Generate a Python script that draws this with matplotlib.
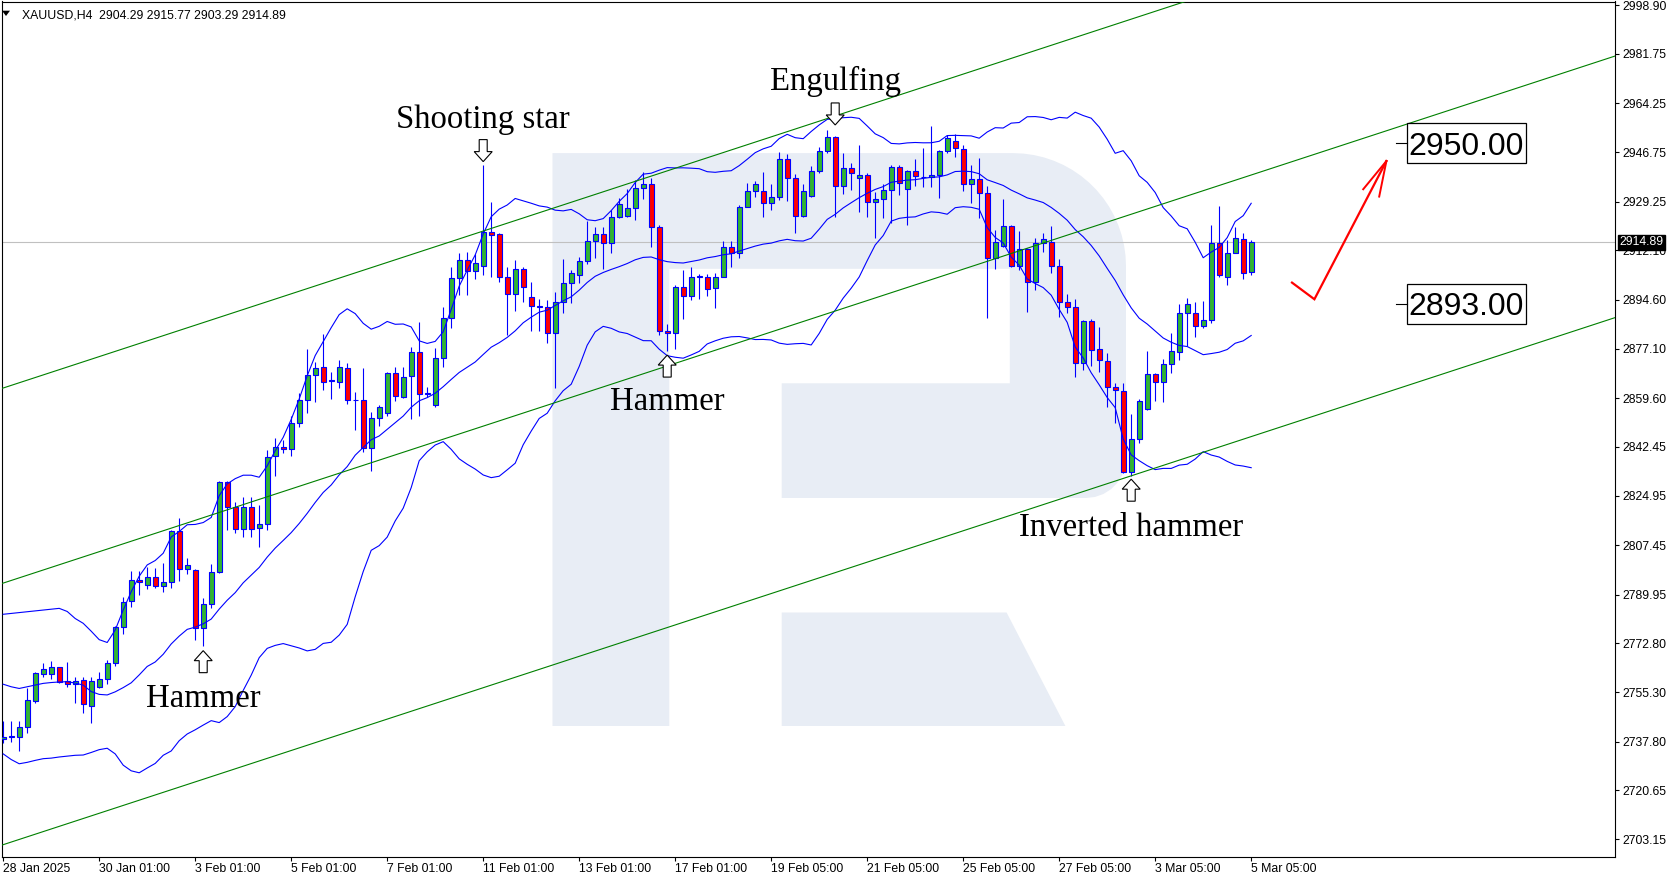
import numpy as np
import pandas as pd
import matplotlib
matplotlib.use('Agg')
import matplotlib.pyplot as plt
import matplotlib.transforms as mtransforms
from matplotlib import font_manager
from matplotlib.patches import Polygon, Rectangle

# ── Data: XAUUSD H4, one entry per bar ────────────────────────────────────────
opens = [
    2738.7, 2739.6, 2739.6, 2743.1, 2752.4, 2762.0, 2761.7, 2764.2, 2759.2, 2758.2,
    2759.6, 2750.6, 2757.1, 2760.2, 2765.6, 2778.5, 2787.7, 2795.0, 2793.3, 2796.1,
    2792.9, 2794.3, 2812.5, 2798.9, 2798.6, 2778.1, 2786.8, 2797.9, 2829.8, 2820.9,
    2813.1, 2820.9, 2813.5, 2814.9, 2839.1, 2842.4, 2841.5, 2850.7, 2859.0, 2867.8,
    2870.6, 2865.9, 2865.2, 2870.2, 2859.1, 2858.9, 2841.8, 2852.5, 2854.2, 2868.4,
    2860.2, 2867.5, 2875.9, 2861.4, 2857.2, 2873.7, 2887.9, 2902.1, 2908.6, 2904.8,
    2906.5, 2918.4, 2917.7, 2902.5, 2896.4, 2905.6, 2895.6, 2892.2, 2892.1, 2882.6,
    2893.8, 2900.6, 2903.3, 2908.4, 2915.5, 2917.7, 2914.8, 2923.7, 2924.3, 2926.9,
    2934.0, 2935.4, 2920.4, 2883.5, 2882.6, 2898.9, 2895.9, 2902.6, 2902.7, 2898.6,
    2902.7, 2913.3, 2911.0, 2927.5, 2933.1, 2933.1, 2928.7, 2931.0, 2944.3, 2937.6,
    2924.3, 2931.3, 2940.3, 2947.4, 2952.1, 2934.8, 2941.4, 2937.6, 2938.8, 2929.3,
    2930.1, 2933.4, 2941.5, 2933.7, 2940.3, 2938.2, 2937.9, 2938.6, 2947.3, 2950.9,
    2947.9, 2935.6, 2937.2, 2932.3, 2909.2, 2913.6, 2920.8, 2906.5, 2912.4, 2900.7,
    2914.5, 2914.9, 2906.5, 2893.8, 2891.8, 2872.0, 2887.1, 2876.9, 2872.9, 2863.5,
    2862.3, 2833.6, 2845.0, 2855.7, 2868.1, 2865.2, 2871.6, 2876.1, 2889.7, 2889.9,
    2885.2, 2887.3, 2914.5, 2902.5, 2911.0, 2916.1, 2904.29,
]
highs = [
    2745.3, 2745.3, 2745.3, 2756.7, 2762.6, 2765.6, 2766.4, 2764.4, 2766.0, 2760.9,
    2760.9, 2760.9, 2762.5, 2766.8, 2779.0, 2789.2, 2798.3, 2798.3, 2799.6, 2799.5,
    2801.1, 2812.8, 2817.3, 2802.8, 2798.9, 2788.6, 2800.8, 2830.3, 2830.3, 2822.9,
    2824.7, 2824.7, 2821.7, 2841.2, 2845.4, 2844.8, 2853.3, 2861.6, 2877.1, 2872.6,
    2882.4, 2869.0, 2873.2, 2872.0, 2861.7, 2870.2, 2854.7, 2857.2, 2869.0, 2870.8,
    2870.8, 2877.9, 2886.7, 2863.5, 2877.3, 2892.0, 2906.2, 2911.0, 2911.6, 2910.7,
    2942.3, 2929.3, 2918.1, 2906.2, 2908.6, 2906.2, 2900.9, 2894.7, 2894.4, 2897.4,
    2908.8, 2905.1, 2909.8, 2922.6, 2920.4, 2920.4, 2926.3, 2930.5, 2933.7, 2937.0,
    2939.7, 2937.6, 2921.0, 2886.1, 2899.8, 2905.1, 2906.0, 2903.5, 2903.6, 2904.1,
    2915.5, 2915.5, 2928.1, 2935.8, 2936.6, 2939.9, 2935.6, 2947.0, 2946.1, 2939.1,
    2935.6, 2942.1, 2948.6, 2954.7, 2952.6, 2946.6, 2943.0, 2949.4, 2939.6, 2932.8,
    2935.4, 2942.3, 2942.3, 2940.5, 2944.3, 2948.2, 2956.1, 2947.6, 2952.9, 2953.3,
    2949.4, 2942.3, 2944.7, 2934.8, 2919.3, 2930.1, 2921.0, 2919.0, 2912.7, 2916.3,
    2918.3, 2920.7, 2908.8, 2896.6, 2894.8, 2887.5, 2887.6, 2884.9, 2875.8, 2864.9,
    2864.9, 2854.0, 2859.2, 2876.4, 2868.7, 2873.4, 2882.8, 2892.9, 2895.0, 2893.8,
    2894.2, 2921.0, 2927.8, 2915.7, 2920.2, 2918.1, 2915.77,
]
lows = [
    2737.2, 2737.8, 2734.6, 2741.0, 2751.6, 2760.9, 2760.0, 2758.7, 2757.1, 2751.6,
    2747.9, 2744.6, 2756.7, 2758.3, 2764.8, 2775.9, 2785.6, 2789.8, 2791.8, 2792.2,
    2790.8, 2792.2, 2794.9, 2797.2, 2773.9, 2771.9, 2785.1, 2797.5, 2812.9, 2811.7,
    2810.3, 2810.5, 2807.0, 2812.9, 2832.0, 2840.3, 2839.1, 2849.5, 2854.5, 2858.4,
    2862.5, 2859.3, 2863.4, 2857.4, 2848.3, 2840.7, 2833.9, 2849.8, 2853.3, 2858.6,
    2859.8, 2852.1, 2853.3, 2860.1, 2856.4, 2870.8, 2884.4, 2896.2, 2896.2, 2901.9,
    2903.3, 2902.7, 2900.9, 2882.0, 2890.6, 2893.8, 2883.6, 2883.6, 2879.1, 2863.4,
    2889.7, 2893.2, 2900.3, 2907.2, 2909.2, 2905.3, 2911.0, 2923.4, 2924.0, 2922.8,
    2930.1, 2913.3, 2882.0, 2876.5, 2876.9, 2887.7, 2894.4, 2894.8, 2895.8, 2891.7,
    2902.5, 2906.2, 2909.2, 2927.3, 2931.1, 2923.8, 2926.3, 2929.9, 2929.5, 2918.1,
    2924.0, 2930.8, 2939.3, 2946.4, 2923.7, 2932.0, 2933.5, 2925.7, 2923.7, 2916.3,
    2923.4, 2921.6, 2931.7, 2921.0, 2934.9, 2934.4, 2934.4, 2930.5, 2946.4, 2945.0,
    2933.2, 2928.9, 2923.4, 2887.9, 2905.3, 2913.3, 2906.3, 2905.1, 2890.3, 2898.0,
    2911.6, 2903.9, 2888.5, 2889.7, 2867.2, 2869.6, 2871.0, 2869.0, 2856.6, 2850.7,
    2833.0, 2832.0, 2843.8, 2855.4, 2858.7, 2858.4, 2868.4, 2873.1, 2878.1, 2881.4,
    2884.6, 2886.4, 2902.7, 2899.7, 2911.0, 2901.8, 2903.29,
]
closes = [
    2739.6, 2739.5, 2743.1, 2752.6, 2762.1, 2763.5, 2764.2, 2759.1, 2758.3, 2759.2,
    2751.2, 2759.2, 2760.2, 2765.6, 2778.5, 2787.5, 2795.0, 2794.3, 2796.1, 2792.9,
    2794.3, 2812.5, 2798.9, 2800.4, 2778.1, 2786.8, 2797.9, 2829.8, 2821.1, 2813.1,
    2820.9, 2813.4, 2815.0, 2838.9, 2842.4, 2841.7, 2850.7, 2859.0, 2867.8, 2870.2,
    2865.2, 2865.7, 2870.6, 2859.0, 2858.9, 2841.8, 2852.5, 2856.6, 2868.4, 2860.5,
    2867.2, 2875.9, 2861.0, 2861.2, 2873.7, 2887.9, 2902.1, 2908.6, 2904.8, 2907.4,
    2918.4, 2917.5, 2902.5, 2896.4, 2905.6, 2898.9, 2892.3, 2892.0, 2882.6, 2893.8,
    2900.6, 2903.9, 2908.4, 2915.5, 2917.7, 2914.8, 2923.7, 2928.3, 2926.9, 2934.0,
    2935.4, 2920.4, 2883.3, 2882.6, 2898.9, 2895.9, 2902.5, 2903.0, 2898.2, 2902.7,
    2913.3, 2911.0, 2927.5, 2933.1, 2935.4, 2928.7, 2931.0, 2944.3, 2937.6, 2924.3,
    2933.1, 2940.3, 2947.4, 2952.1, 2934.8, 2941.4, 2939.3, 2938.8, 2929.3, 2930.1,
    2933.4, 2941.5, 2935.8, 2940.3, 2938.4, 2937.9, 2938.6, 2947.3, 2951.7, 2948.2,
    2935.6, 2937.2, 2932.3, 2909.2, 2915.1, 2920.8, 2906.5, 2912.4, 2900.7, 2914.5,
    2915.9, 2906.5, 2893.8, 2891.8, 2872.0, 2887.1, 2876.7, 2873.1, 2863.5, 2862.5,
    2833.6, 2845.0, 2858.7, 2868.1, 2865.2, 2871.6, 2876.5, 2889.7, 2892.9, 2885.2,
    2887.3, 2914.5, 2903.3, 2911.0, 2916.5, 2903.9, 2914.89,
]

# Bollinger(20, 2) for the first 19 bars needs history off the left edge,
# so those values are read straight off the chart
bb_upper_early = [2783.0, 2783.3, 2783.6, 2783.9, 2784.2, 2784.5, 2784.8, 2785.1, 2784.0, 2781.5,
                  2779.8, 2777.0, 2774.0, 2773.0, 2777.4, 2784.5, 2791.0, 2796.5, 2800.5]
bb_mid_early = [2758.2, 2757.3, 2756.7, 2757.3, 2757.9, 2758.5, 2758.8, 2759.0, 2759.1, 2758.6,
                2757.9, 2755.6, 2754.6, 2754.4, 2755.5, 2757.0, 2758.7, 2761.5, 2764.5]
bb_lower_early = [2733.5, 2731.5, 2730.0, 2730.5, 2731.2, 2731.8, 2732.0, 2732.4, 2732.7, 2733.0,
                  2733.1, 2734.0, 2735.0, 2735.5, 2733.5, 2729.5, 2727.5, 2726.8, 2728.5]

date_ticks = [0, 12, 24, 36, 48, 60, 72, 84, 96, 108, 120, 132, 144, 156]
date_labels = ['28 Jan 2025', '30 Jan 01:00', '3 Feb 01:00', '5 Feb 01:00', '7 Feb 01:00',
               '11 Feb 01:00', '13 Feb 01:00', '17 Feb 01:00', '19 Feb 05:00', '21 Feb 05:00',
               '25 Feb 05:00', '27 Feb 05:00', '3 Mar 05:00', '5 Mar 05:00']
price_ticks = [2998.90, 2981.75, 2964.25, 2946.75, 2929.25, 2912.10, 2894.60, 2877.10, 2859.60,
               2842.45, 2824.95, 2807.45, 2789.95, 2772.80, 2755.30, 2737.80, 2720.65, 2703.15]

# channel trendlines: price at bar 0 and common slope (price per bar)
channel_base = [2863.23, 2794.06, 2701.31]
channel_slope = 0.9275

# candle patterns: label, bar, arrow tip price, arrow direction, text baseline price
patterns = [
    ('Shooting star', 60, 2943.5, 'down', 2955.3),
    ('Engulfing', 104, 2956.5, 'down', 2968.8),
    ('Hammer', 83, 2874.9, 'up', 2855.4),
    ('Hammer', 25, 2770.1, 'up', 2750.2),
    ('Inverted hammer', 141, 2830.9, 'up', 2810.9),
]
target_levels = [2950.00, 2893.00]
# hand-drawn forecast tick: (bar, price) vertices
forecast_x = [161.1, 163.9, 172.9]
forecast_y = [2900.6, 2894.7, 2943.7]
barbs = [(170.0, 2933.7), (172.0, 2931.1)]

# ── Style ─────────────────────────────────────────────────────────────────────
BLUE = '#0000FF'
GREEN_FILL = '#32B432'
RED_FILL = '#FF0000'
LINE_GREEN = '#008000'
WATERMARK = '#E8EDF5'
W, H, DPI = 1679, 882, 100

plt.rcParams['font.family'] = ['Liberation Sans', 'DejaVu Sans']
available = {f.name for f in font_manager.fontManager.ttflist}
if 'Liberation Sans Narrow' in available:
    big_family, big_size = 'Liberation Sans Narrow', 26.5
else:
    big_family, big_size = 'Liberation Sans', 23

fig = plt.figure(figsize=(W / DPI, H / DPI), dpi=DPI)
ax = fig.add_axes([2 / W, (H - 857) / H, 1613 / W, 855.5 / H])
ax.set_xlim(-0.15, 201.475)
ax.set_ylim(2696.94, 3000.27)
for s in ax.spines.values():
    s.set_linewidth(0.8)
    s.set_color('black')


def px_trans(xd, yd):
    # vertices in inches, anchored at a data point
    return fig.dpi_scale_trans + mtransforms.ScaledTranslation(xd, yd, ax.transData)


def px(pts):
    return [(x / DPI, y / DPI) for x, y in pts]


# ── Watermark logo (figure pixels, y down) ────────────────────────────────────
def fig_px(pts):
    return [(x / DPI, (H - y) / DPI) for x, y in pts]


outer = [(552.5, 153.1)]
R = 113
for t in np.linspace(90, 0, 18):
    outer.append((1126 - R + R * np.cos(np.radians(t)), 153.1 + R - R * np.sin(np.radians(t))))
r = 40
for t in np.linspace(0, -90, 8):
    outer.append((1126 - r + r * np.cos(np.radians(t)), 498 - r - r * np.sin(np.radians(t))))
outer += [(781.7, 498), (781.7, 383.3), (1009.8, 383.3), (1009.8, 268.8),
          (669.3, 268.8), (669.3, 726), (552.5, 726)]
leg = [(781.7, 612.5), (1006.6, 612.5), (1065.4, 726), (781.7, 726)]
for shape in (outer, leg):
    ax.add_patch(Polygon(fig_px(shape), closed=True, fc=WATERMARK, ec='none',
                         transform=fig.dpi_scale_trans, zorder=0))

# ── Candles ───────────────────────────────────────────────────────────────────
x = np.arange(len(closes))
o, h, l, c = (np.array(v) for v in (opens, highs, lows, closes))
bull = c > o
ax.vlines(x, l, h, color=BLUE, lw=0.8, zorder=3)
ax.bar(x, np.maximum(np.abs(c - o), 0.2), bottom=np.minimum(o, c), width=0.62,
       color=np.where(bull, GREEN_FILL, RED_FILL), edgecolor=BLUE, linewidth=0.8, zorder=4)

# ── Bollinger bands ───────────────────────────────────────────────────────────
cs = pd.Series(c)
mid = cs.rolling(20).mean()
sd = cs.rolling(20).std(ddof=0)
upper = (mid + 2 * sd).to_numpy()
lower = (mid - 2 * sd).to_numpy()
mid = mid.to_numpy()
n0 = len(bb_mid_early)
upper[:n0], mid[:n0], lower[:n0] = bb_upper_early, bb_mid_early, bb_lower_early
for band in (upper, mid, lower):
    ax.plot(x, band, color=BLUE, lw=0.8, zorder=5)

# ── Channel ───────────────────────────────────────────────────────────────────
for base in channel_base:
    ax.axline((0, base), slope=channel_slope, color=LINE_GREEN, lw=0.8, zorder=5)

# bid line
ax.axhline(c[-1], color='#C0C0C0', lw=0.8, zorder=1)

# ── Pattern labels with hollow arrows ─────────────────────────────────────────
arrow_up = [(0, 0), (-9, -10), (-4, -10), (-4, -22), (4, -22), (4, -10), (9, -10)]
for label, bar, tip, direction, base_y in patterns:
    shape = arrow_up if direction == 'up' else [(dx, -dy) for dx, dy in arrow_up]
    ax.add_patch(Polygon(px(shape), closed=True, fc='white', ec='black', lw=0.8,
                         transform=px_trans(bar, tip), zorder=7))
    ax.text(bar, base_y, label, ha='center', va='baseline', fontsize=23.6,
            family='Liberation Serif', color='black', zorder=7)

# ── Forecast tick (red) ───────────────────────────────────────────────────────
ax.plot(forecast_x, forecast_y, color='red', lw=1.6, solid_joinstyle='miter', zorder=7)
for bx, by in barbs:
    ax.plot([forecast_x[-1], bx], [forecast_y[-1], by], color='red', lw=1.4, zorder=7)

# ── Target price boxes ────────────────────────────────────────────────────────
box_bar = 182.9
digit_h = 0.716 * big_size * DPI / 72          # cap/digit height in pixels
text_shift = mtransforms.offset_copy(ax.transData, fig, x=0, y=-digit_h / 2, units='dots')
for lvl in target_levels:
    tr = px_trans(box_bar, lvl)
    ax.add_patch(Rectangle((-59.5 / DPI, -19.85 / DPI), 119 / DPI, 39.7 / DPI, fc='white',
                           ec='black', lw=0.9, transform=tr, zorder=7))
    ax.plot([-70.2 / DPI, -59.5 / DPI], [0, 0], color='black', lw=0.8, transform=tr, zorder=7)
    ax.text(box_bar, lvl, f'{lvl:.2f}', ha='center', va='baseline', fontsize=big_size,
            family=big_family, color='black', zorder=8, transform=text_shift)

# ── Axes ──────────────────────────────────────────────────────────────────────
ax.yaxis.tick_right()
ax.set_yticks(price_ticks)
ax.set_yticklabels([f'{p:.2f}' for p in price_ticks])
ax.tick_params(axis='y', length=3, width=0.8, pad=2.5, labelsize=8.8, colors='black')
ax.set_xticks(date_ticks)
ax.set_xticklabels(date_labels, ha='left')
ax.tick_params(axis='x', length=3, width=0.8, pad=1.5, labelsize=8.8, colors='black')

# current price marker on the scale
ax.text(1.0025, c[-1], f'{c[-1]:.2f}', transform=mtransforms.blended_transform_factory(ax.transAxes, ax.transData),
        ha='left', va='center', fontsize=8.8, color='white', zorder=10, clip_on=False,
        bbox=dict(boxstyle='square,pad=0.12', fc='black', ec='black'))

# header
fig.patches.append(Polygon(fig_px([(2, 10.7), (10, 10.7), (6, 16)]), closed=True, fc='black',
                           ec='none', transform=fig.dpi_scale_trans, figure=fig))
fig.text(21.7 / W, (H - 18.3) / H,
         f'XAUUSD,H4  {opens[-1]:.2f} {highs[-1]:.2f} {lows[-1]:.2f} {closes[-1]:.2f}',
         ha='left', va='baseline', fontsize=8.8, color='black')

fig.savefig('out.png', dpi=DPI, facecolor='white')
